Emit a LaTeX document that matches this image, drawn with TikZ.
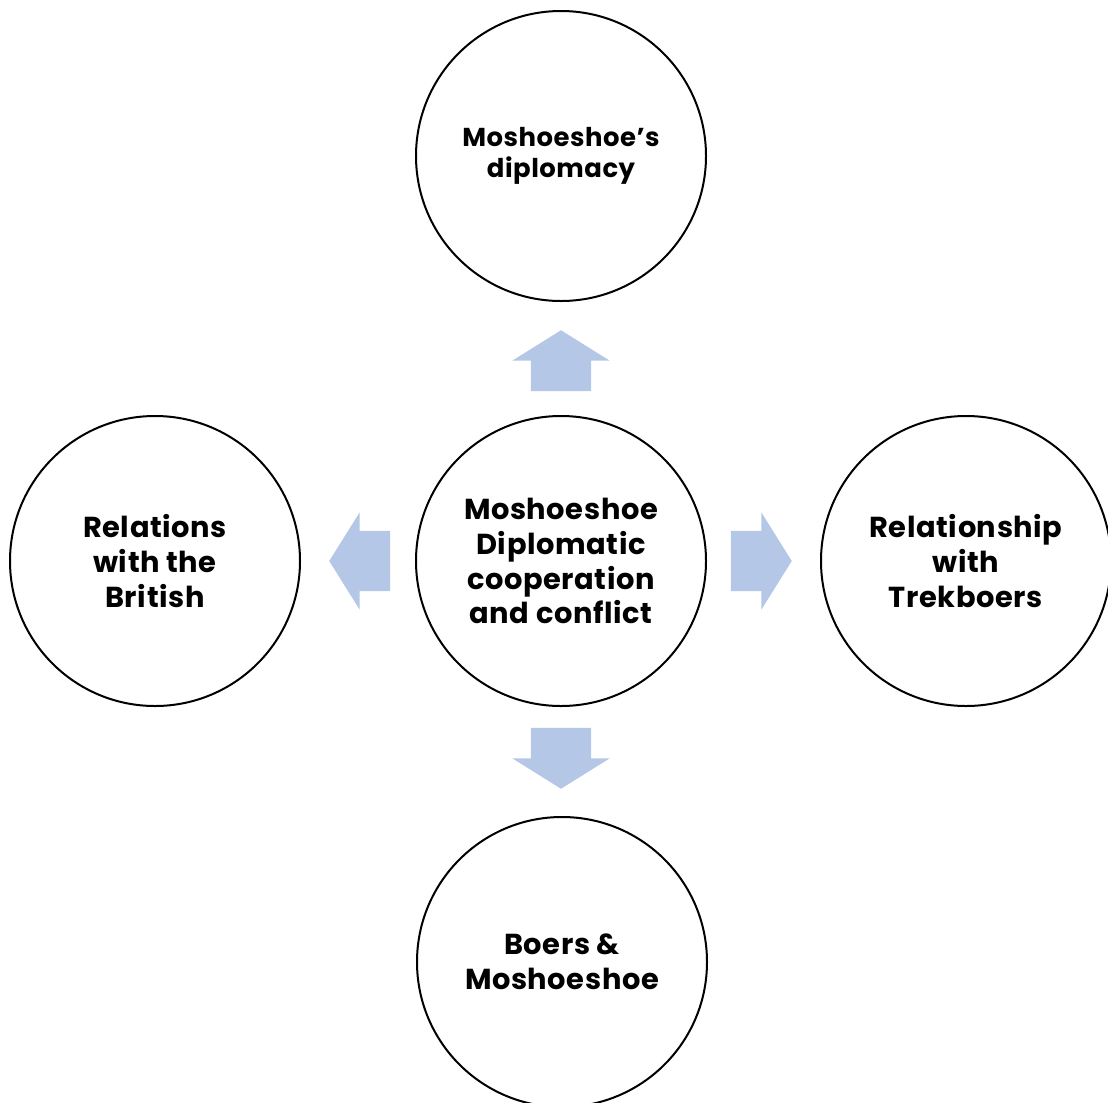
\documentclass[tikz,border=0pt]{standalone}
\usepackage{fontspec}
\setmainfont{Poppins}[LetterSpace=2]
\usetikzlibrary{shapes.arrows}
\definecolor{arrblue}{HTML}{B4C7E7}

\begin{document}
\begin{tikzpicture}[x=1bp,y=-1bp,
  topic/.style={draw, circle, line width=2bp, minimum size=290bp, inner sep=0pt, align=center, font=\bfseries\fontsize{29}{35}\selectfont},
  blockarr/.style={single arrow, fill=arrblue, draw=none, inner xsep=0pt, inner ysep=30bp, minimum width=0pt,
    single arrow head extend=18.5bp, single arrow tip angle=116, minimum height=61bp},
  vertarr/.style={blockarr, inner xsep=30bp, inner ysep=0pt},
]
  \useasboundingbox (0,0) rectangle (1108,1103);

  \node[topic] (hub) at (561,561) {Moshoeshoe\\Diplomatic\\cooperation\\and conflict};
  \node[topic, font=\bfseries\fontsize{26}{31}\selectfont] (diplo) at (561,156) {Moshoeshoe’s\\diplomacy};
  \node[topic] (british) at (155,561) {Relations\\with the\\British};
  \node[topic] (trek) at (966,561) {Relationship\\with\\Trekboers};
  \node[topic] (boers) at (562,962) {Boers \&\\Moshoeshoe};

  % block arrows out of the hub
  \node[vertarr, shape border rotate=90, anchor=tip] (toDiplo) at (561,330) {};
  \node[blockarr, shape border rotate=180, anchor=tip] (toBritish) at (329,561) {};
  \node[blockarr, anchor=tip] (toTrek) at (792,561) {};
  \node[vertarr, shape border rotate=270, anchor=tip] (toBoers) at (561,789) {};
\end{tikzpicture}
\end{document}
